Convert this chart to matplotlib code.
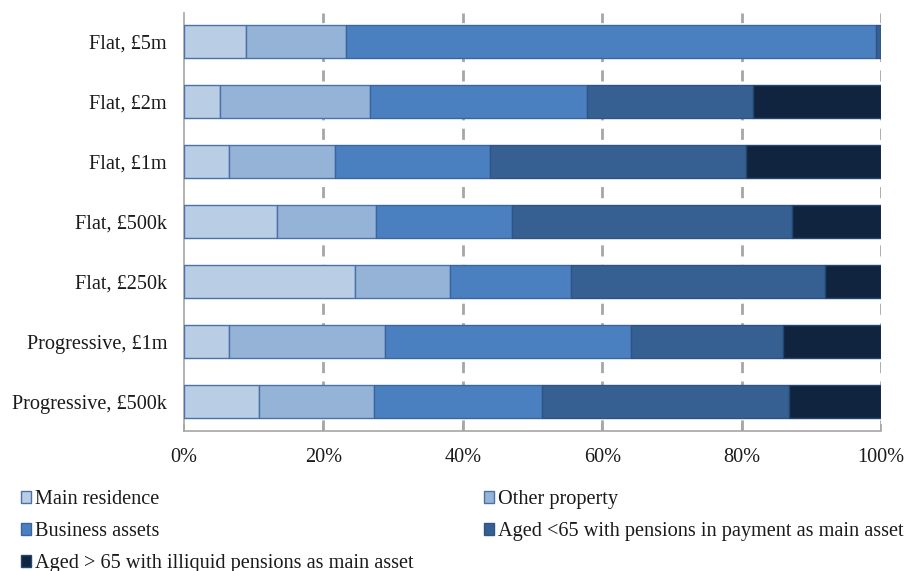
import matplotlib
matplotlib.use("Agg")
import matplotlib.pyplot as plt
from matplotlib.patches import Patch

plt.rcParams['font.family'] = ['Liberation Serif', 'DejaVu Serif']

categories = ["Progressive, £500k", "Progressive, £1m", "Flat, £250k",
              "Flat, £500k", "Flat, £1m", "Flat, £2m", "Flat, £5m"]
series_names = ["Main residence", "Other property", "Business assets",
                "Aged <65 with pensions in payment as main asset",
                "Aged > 65 with illiquid pensions as main asset"]
main_residence = [10.8, 6.5, 24.5, 13.4, 6.4, 5.2, 8.9]
other_property = [16.5, 22.3, 13.6, 14.1, 15.3, 21.5, 14.3]
business_assets = [24.1, 35.4, 17.4, 19.6, 22.2, 31.1, 76.1]
aged_under_65 = [35.4, 21.8, 36.5, 40.2, 36.7, 23.8, 0.7]
aged_over_65 = [13.2, 14.0, 8.0, 12.7, 19.4, 18.4, 0.0]
x_ticks = [0, 20, 40, 60, 80, 100]
x_tick_labels = ["0%", "20%", "40%", "60%", "80%", "100%"]

colors = ["#B9CDE5", "#95B3D7", "#4A80C0", "#366092", "#10243F"]
edges = ["#4A72A8", "#4A72A8", "#3A66A0", "#2F5585", "#23466F"]

FS = 14.6
fig = plt.figure(figsize=(9.08, 5.71), dpi=100)
ax = fig.add_axes([184 / 908, 1 - 431 / 571, 697 / 908, 418 / 571])

values = [main_residence, other_property, business_assets, aged_under_65, aged_over_65]
ypos = list(range(len(categories)))
left = [0.0] * len(categories)
for vals, c, ec in zip(values, colors, edges):
    ax.barh(ypos, vals, left=left, height=0.55, color=c, edgecolor=ec,
            linewidth=1.0, zorder=3)
    left = [l + v for l, v in zip(left, vals)]

ax.set_xlim(0, 100)
ax.set_ylim(-0.487, 6.48)
ax.set_yticks(ypos)
ax.set_yticklabels(categories, fontsize=FS, color="#1a1a1a")
ax.set_xticks(x_ticks)
ax.set_xticklabels(x_tick_labels, fontsize=FS, color="#1a1a1a")
ax.tick_params(axis='y', length=0, pad=12.2)
ax.tick_params(axis='x', length=5, width=1.2, color="#A6A6A6", pad=12,
               direction='in')

for g in x_ticks[1:]:
    ax.axvline(g, color="#A6A6A6", linewidth=2, linestyle=(0, (4, 3)), zorder=1)

for s in ["top", "right"]:
    ax.spines[s].set_visible(False)
for s in ["left", "bottom"]:
    ax.spines[s].set_color("#A6A6A6")
    ax.spines[s].set_linewidth(1.2)

handles = [Patch(facecolor=c, edgecolor=ec, linewidth=1.0, label=n)
           for c, ec, n in zip(colors, edges, series_names)]
order = [0, 2, 4, 1, 3]
fig.legend([handles[i] for i in order], [series_names[i] for i in order],
           loc='upper left', bbox_to_anchor=(21 / 908, 1 - 490 / 571),
           ncol=2, frameon=False, fontsize=FS, handlelength=0.5,
           handleheight=0.5, handletextpad=0.2, labelspacing=0.65,
           columnspacing=3.45, borderaxespad=0, borderpad=0,
           labelcolor="#1a1a1a")

fig.savefig("out.png", dpi=100)
